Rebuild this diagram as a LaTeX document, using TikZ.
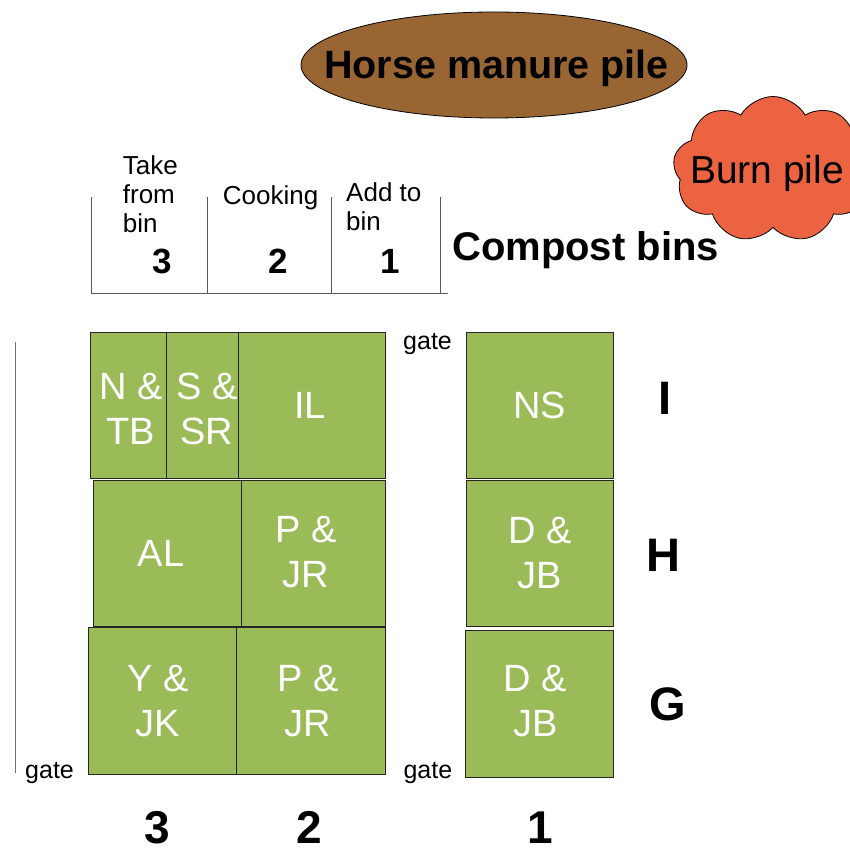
\documentclass[tikz,border=0pt]{standalone}
\usepackage{fontspec}
\setmainfont{Liberation Sans}
\usetikzlibrary{shapes.geometric,shapes.symbols}
\definecolor{cellgreen}{HTML}{9BBB59}
\definecolor{manure}{HTML}{996633}
\definecolor{burn}{RGB}{236,99,65}
\newcommand{\myfs}[2]{\fontsize{#1}{#2}\selectfont}
\begin{document}
\begin{tikzpicture}[x=1pt,y=-1pt,
  cell/.style={draw=black!85, line width=0.9pt, fill=cellgreen, inner sep=0pt, outer sep=0pt},
  celltext/.style={text=white, align=center, font=\myfs{38}{45}, inner sep=0pt},
  smalltext/.style={font=\myfs{26}{29}, inner sep=0pt, align=left},
  gatetext/.style={font=\myfs{25}{30}, inner sep=0pt, anchor=base west},
  bignum/.style={font=\bfseries\myfs{46}{50}, inner sep=0pt, anchor=base},
  binnum/.style={font=\bfseries\myfs{35}{40}, inner sep=0pt, anchor=base},
  rowlab/.style={font=\bfseries\myfs{47}{50}, inner sep=0pt},
  binline/.style={draw=black!65, line width=0.9pt},
]
\useasboundingbox (0,0) rectangle (849,850);

% Horse manure pile
\node[ellipse, draw=black, line width=0.8pt, fill=manure, minimum width=386pt, minimum height=106pt, inner sep=0pt] (manure) at (494,65) {};
\node[font=\bfseries\myfs{39.5}{42}, inner sep=0pt, anchor=base] (manuretxt) at (496.5,79) {Horse manure pile};

% Burn pile
\node[cloud, cloud puffs=9, cloud puff arc=120, aspect=1.3, draw=black, line width=0.8pt, fill=burn, minimum width=200pt, minimum height=146pt, inner sep=0pt] (burn) at (773,169.5) {};
\node[font=\myfs{39}{42}, inner sep=0pt, anchor=base] (burntxt) at (767,183.3) {Burn pile};

% Compost bins
\draw[binline] (91.7,197) -- (91.7,293) -- (448,293);
\draw[binline] (207.7,197) -- (207.7,293);
\draw[binline] (331.7,197) -- (331.7,293);
\draw[binline] (440.7,197) -- (440.7,293);
\node[smalltext, anchor=west] (take) at (122.7,194.2) {Take\\from\\bin};
\node[smalltext, anchor=base west] (cook) at (222.7,205) {Cooking};
\node[smalltext, anchor=west] (add) at (346,206.7) {Add to\\bin};
\node[binnum] (b3) at (162.2,273.3) {3};
\node[binnum] (b2) at (278.5,273.3) {2};
\node[binnum] (b1) at (389.8,273.3) {1};
\node[font=\bfseries\myfs{40}{42}, inner sep=0pt, anchor=base west] (compost) at (452,260) {Compost bins};

% left fence line
\draw[draw=black!55, line width=1.6pt] (15.5,342) -- (15.5,773);

% Plots, column 3 and 2
\node[cell, minimum width=76.5pt, minimum height=146pt] (ntb) at (128.25,405) {};
\node[cell, minimum width=71.5pt, minimum height=146pt] (ssr) at (202.25,405) {};
\node[cell, minimum width=147pt, minimum height=146pt] (il) at (311.5,405) {};
\node[cell, minimum width=148pt, minimum height=146pt] (al) at (167.7,553) {};
\node[cell, minimum width=143.3pt, minimum height=146pt] (pjr1) at (313.35,553) {};
\node[cell, minimum width=148pt, minimum height=146.7pt] (yjk) at (162,700.65) {};
\node[cell, minimum width=149pt, minimum height=146.7pt] (pjr2) at (310.5,700.65) {};
% column 1
\node[cell, minimum width=147.3pt, minimum height=146pt] (ns) at (539.65,405) {};
\node[cell, minimum width=147pt, minimum height=146.7pt] (djb1) at (540.2,553.35) {};
\node[cell, minimum width=147.6pt, minimum height=146.6pt] (djb2) at (539.5,704) {};

% cell texts
\node[celltext] (tntb) at (131,408.5) {N \&\\TB};
\node[celltext] (tssr) at (207,408.5) {S \&\\SR};
\node[celltext] (til) at (310,405.5) {IL};
\node[celltext] (tal) at (161,553) {AL};
\node[celltext] (tpjr1) at (306,552.5) {P \&\\JR};
\node[celltext] (tyjk) at (158,701.5) {Y \&\\JK};
\node[celltext] (tpjr2) at (308,701) {P \&\\JR};
\node[celltext] (tns) at (539.5,405.5) {NS};
\node[celltext] (tdjb1) at (540,553) {D \&\\JB};
\node[celltext] (tdjb2) at (535.5,701) {D \&\\JB};

% gates
\node[gatetext] (gate1) at (403,349) {gate};
\node[gatetext] (gate2) at (403.3,778) {gate};
\node[gatetext] (gate3) at (25,778) {gate};

% row labels
\node[rowlab] (rowI) at (665,398.3) {I};
\node[rowlab] (rowH) at (663,555.5) {H};
\node[rowlab] (rowG) at (667.5,704) {G};

% column numbers
\node[bignum] (c3) at (157.5,843) {3};
\node[bignum] (c2) at (309,843) {2};
\node[bignum] (c1) at (540,843) {1};
\end{tikzpicture}
\end{document}
